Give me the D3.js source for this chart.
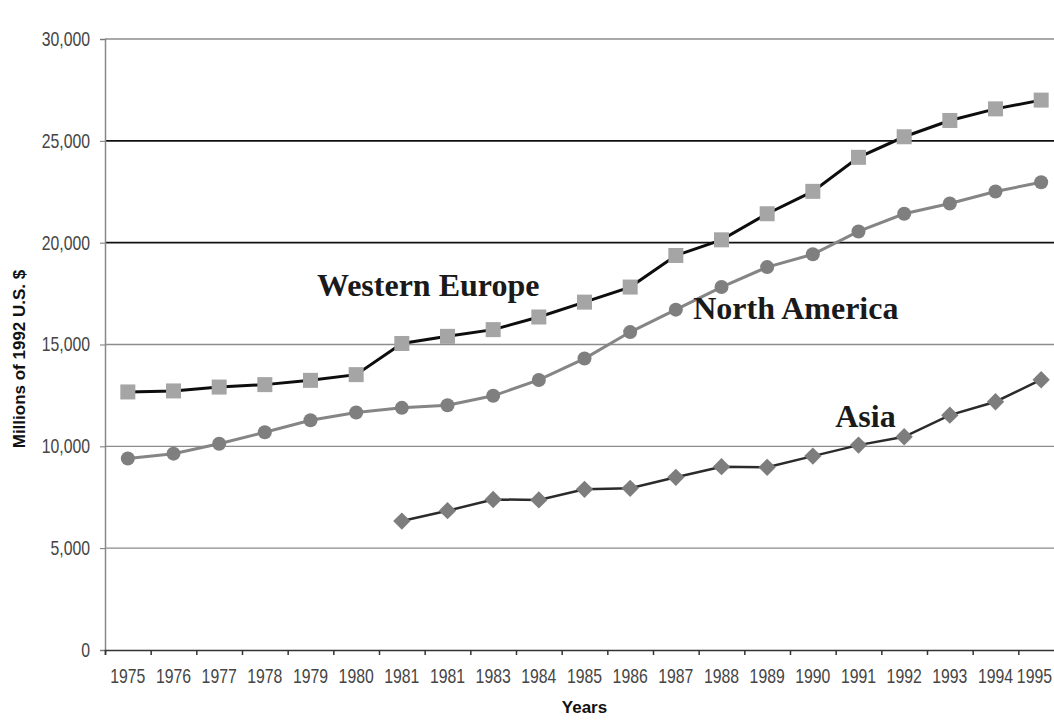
<!DOCTYPE html>
<meta charset="utf-8">
<style>
body { margin: 0; background: #fff; }
svg { background-color: #fff; }
.tick text {
  font-family: "Liberation Sans", Arial, sans-serif;
  font-size: 20px;
  fill: #454545;
}
.label {
  font-family: "Liberation Serif", "Times New Roman", serif;
  font-weight: bold;
  font-size: 32px;
  fill: #1a1a1a;
}
.title {
  font-family: "Liberation Sans", Arial, sans-serif;
  font-weight: bold;
  font-size: 17px;
  fill: #111;
}
</style>
<svg width="1054" height="722"></svg>
<script src="https://d3js.org/d3.v7.min.js"></script>
<script>

// years as printed on the chart (the original repeats 1981)
var yearLabels = ["1975","1976","1977","1978","1979","1980","1981","1981","1983","1984","1985",
                  "1986","1987","1988","1989","1990","1991","1992","1993","1994","1995"];

var westernEurope = [12670, 12720, 12910, 13030, 13240, 13520, 15050, 15400, 15730, 16350, 17080,
                     17820, 19370, 20140, 21420, 22520, 24190, 25200, 26000, 26570, 27000];
var northAmerica  = [9400, 9640, 10130, 10690, 11280, 11660, 11890, 12020, 12480, 13260, 14310,
                     15610, 16710, 17820, 18800, 19430, 20550, 21420, 21920, 22510, 22970];
// Asia starts in 1981 (index 6)
var asiaStart = 6;
var asia = [6330, 6840, 7390, 7370, 7890, 7940, 8480, 9000, 8970, 9520, 10060, 10470, 11530, 12190, 13270];

var yTicks = [0, 5000, 10000, 15000, 20000, 25000, 30000];

// series labels placed in (year index, value) units
var seriesLabels = [
  {text: "Western Europe", i: 4.64, v: 17360},
  {text: "North America",  i: 12.88, v: 16230},
  {text: "Asia",           i: 15.99, v: 10950}
];

var svg = d3.select("svg"),
    margin = {left: 105, right: -10, top: 39, bottom: 72},
    width = +svg.attr("width") - margin.left - margin.right,
    height = +svg.attr("height") - margin.top - margin.bottom;

var squeeze = 0.79; // the original tick font is tall and narrow

var idx = d3.range(yearLabels.length);

var x = d3.scaleBand().domain(idx).range([0, width]).padding(0);
var xi = d3.scaleLinear().domain([0, yearLabels.length]).range([0, width]);
var y = d3.scaleLinear().domain([0, 30000]).range([height, 0]);

var g = svg.append("g")
    .attr("transform", "translate(" + margin.left + "," + margin.top + ")");

// gridlines (25,000 and 20,000 are drawn dark in the original)
g.append("g").selectAll("line").data(yTicks.filter(function(d) { return d > 0; }))
  .enter().append("line")
    .attr("x1", 0).attr("x2", width)
    .attr("y1", function(d) { return y(d); })
    .attr("y2", function(d) { return y(d); })
    .attr("stroke", function(d) { return (d == 25000 || d == 20000) ? "#111" : "#8c8c8c"; })
    .attr("stroke-width", function(d) { return (d == 25000 || d == 20000) ? 1.6 : 1.3; });

// y axis
var yAxis = g.append("g")
    .call(d3.axisLeft(y).tickValues(yTicks).tickSize(5).tickPadding(10).tickFormat(d3.format(",")));
yAxis.select(".domain").attr("stroke", "#888").attr("stroke-width", 1.5);
yAxis.selectAll(".tick line").attr("stroke", "#777");
yAxis.selectAll(".tick text")
    .attr("x", -15 / squeeze)
    .attr("transform", "scale(" + squeeze + ",1)");

// x axis: labels centred in each year, ticks on the boundaries
var xAxis = g.append("g")
    .attr("transform", "translate(0," + height + ")")
    .call(d3.axisBottom(x).tickSize(0).tickPadding(19).tickFormat(function(d) { return yearLabels[d]; }));
xAxis.select(".domain").remove();
xAxis.selectAll(".tick text").attr("transform", "scale(" + squeeze + ",1)");
// keep the last year inside the picture
var lastX = x(yearLabels.length - 1) + x.bandwidth() / 2;
xAxis.selectAll(".tick text").filter(function(d) { return d == yearLabels.length - 1; })
    .attr("text-anchor", "end")
    .attr("x", (+svg.attr("width") - 2 - margin.left - lastX) / squeeze);

var xTicks = g.append("g")
    .attr("transform", "translate(0," + height + ")")
    .call(d3.axisBottom(xi).tickValues(d3.range(yearLabels.length + 1)).tickSize(5).tickFormat(""));
xTicks.select(".domain").attr("stroke", "#333").attr("stroke-width", 1.5);
xTicks.selectAll(".tick line").attr("stroke", "#333").attr("stroke-width", 1.5);

var cx = function(i) { return x(i) + x.bandwidth() / 2; };

var line = d3.line()
    .x(function(d) { return cx(d.i); })
    .y(function(d) { return y(d.v); });

function toPoints(values, start) {
  return values.map(function(v, k) { return {i: k + start, v: v}; });
}

var na = toPoints(northAmerica, 0),
    we = toPoints(westernEurope, 0),
    as = toPoints(asia, asiaStart);

// Asia
g.append("path").datum(as)
    .attr("fill", "none").attr("stroke", "#2b2b2b").attr("stroke-width", 2.5)
    .attr("d", line);
g.append("g").selectAll("path").data(as).enter().append("path")
    .attr("d", d3.symbol().type(d3.symbolSquare).size(150))
    .attr("transform", function(d) { return "translate(" + cx(d.i) + "," + y(d.v) + ") rotate(45)"; })
    .attr("fill", "#7d7d7d");

// North America
g.append("path").datum(na)
    .attr("fill", "none").attr("stroke", "#858585").attr("stroke-width", 3)
    .attr("d", line);
g.append("g").selectAll("circle").data(na).enter().append("circle")
    .attr("cx", function(d) { return cx(d.i); })
    .attr("cy", function(d) { return y(d.v); })
    .attr("r", 7)
    .attr("fill", "#7f7f7f");

// Western Europe
g.append("path").datum(we)
    .attr("fill", "none").attr("stroke", "#0d0d0d").attr("stroke-width", 3)
    .attr("d", line);
g.append("g").selectAll("rect").data(we).enter().append("rect")
    .attr("x", function(d) { return cx(d.i) - 7.5; })
    .attr("y", function(d) { return y(d.v) - 7.5; })
    .attr("width", 15).attr("height", 15)
    .attr("fill", "#a5a5a5");

// series labels
g.append("g").selectAll("text").data(seriesLabels).enter().append("text")
    .attr("class", "label")
    .attr("x", function(d) { return xi(d.i); })
    .attr("y", function(d) { return y(d.v); })
    .text(function(d) { return d.text; });

// axis titles
svg.append("text")
    .attr("class", "title")
    .attr("transform", "translate(25,359) rotate(-90)")
    .attr("text-anchor", "middle")
    .text("Millions of 1992 U.S. $");

svg.append("text")
    .attr("class", "title")
    .attr("x", margin.left + width / 2)
    .attr("y", 713)
    .attr("text-anchor", "middle")
    .text("Years");

</script>
